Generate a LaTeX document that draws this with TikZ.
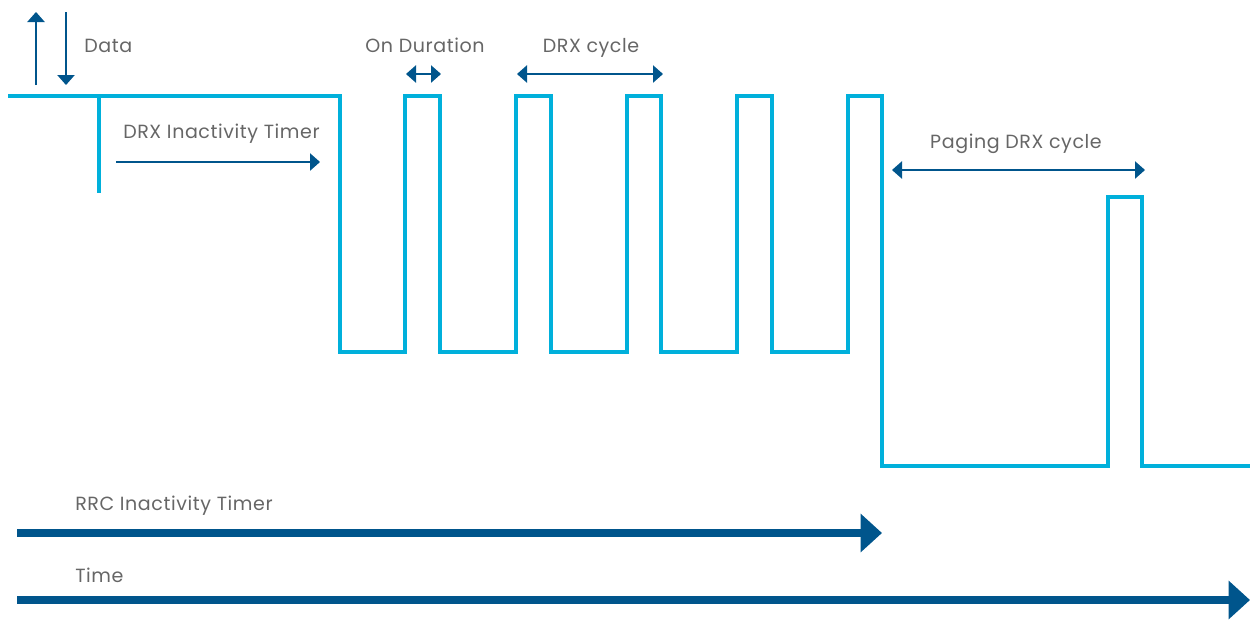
\documentclass[tikz,border=0pt]{standalone}
\usepackage{fontspec}
\setmainfont[LetterSpace=3]{Poppins}
\usetikzlibrary{arrows.meta}
\definecolor{wave}{HTML}{00B0DB}
\definecolor{dblue}{HTML}{00558C}
\definecolor{txt}{HTML}{666666}
\begin{document}
\begin{tikzpicture}[x=0.75pt,y=-0.75pt,
  wavestyle/.style={draw=wave,line width=2.3pt,line join=miter},
  thin/.style={draw=dblue,line width=1pt,-{Triangle[length=7.5pt,width=13pt]}},
  thinboth/.style={draw=dblue,line width=1pt,{Triangle[length=7.5pt,width=13pt]}-{Triangle[length=7.5pt,width=13pt]}},
  thick/.style={draw=dblue,line width=6pt,-{Triangle[length=16pt,width=28pt]}},
  lbl/.style={text=txt,font=\fontsize{14.3}{16}\selectfont,inner sep=0pt}]
\useasboundingbox (0,0) rectangle (1250,619);
% waveform
\draw[wavestyle] (8,96) -- (340,96) -- (340,352) -- (405,352) -- (405,96) -- (440,96) -- (440,352)
  -- (516,352) -- (516,96) -- (551,96) -- (551,352) -- (627,352) -- (627,96) -- (661,96) -- (661,352)
  -- (737,352) -- (737,96) -- (772,96) -- (772,352) -- (848,352) -- (848,96) -- (882,96) -- (882,466)
  -- (1108,466) -- (1108,197) -- (1142,197) -- (1142,466) -- (1250,466);
\draw[wavestyle] (99,96) -- (99,193);
% coordinates
\coordinate (up0) at (36,85); \coordinate (up1) at (36,12);
\coordinate (dn0) at (66,12); \coordinate (dn1) at (66,85);
\coordinate (it0) at (116,162); \coordinate (it1) at (320,162);
\coordinate (od0) at (406,74); \coordinate (od1) at (441,74);
\coordinate (dc0) at (517,74); \coordinate (dc1) at (663,74);
\coordinate (pd0) at (892,170); \coordinate (pd1) at (1145,170);
\coordinate (rrc0) at (17,533); \coordinate (rrc1) at (882,533);
\coordinate (tm0) at (17,600); \coordinate (tm1) at (1250,600);
% arrows
\draw[thin] (up0) -- (up1);
\draw[thin] (dn0) -- (dn1);
\draw[thin] (it0) -- (it1);
\draw[thinboth] (od0) -- (od1);
\draw[thinboth] (dc0) -- (dc1);
\draw[thinboth] (pd0) -- (pd1);
\draw[thick] (rrc0) -- (rrc1);
\draw[thick] (tm0) -- (tm1);
% labels
\node[lbl,anchor=base west] (data) at (84,52.5) {Data};
\node[lbl,anchor=base west] (drxit) at (123,138.5) {DRX Inactivity Timer};
\node[lbl,anchor=base] (ondur) at (425,52.5) {On Duration};
\node[lbl,anchor=base] (drxc) at (591,52.5) {DRX cycle};
\node[lbl,anchor=base] (pdrx) at (1016,148.5) {Paging DRX cycle};
\node[lbl,anchor=base west] (rrc) at (75,510.5) {RRC Inactivity Timer};
\node[lbl,anchor=base west] (time) at (75,582) {Time};
\end{tikzpicture}
\end{document}
